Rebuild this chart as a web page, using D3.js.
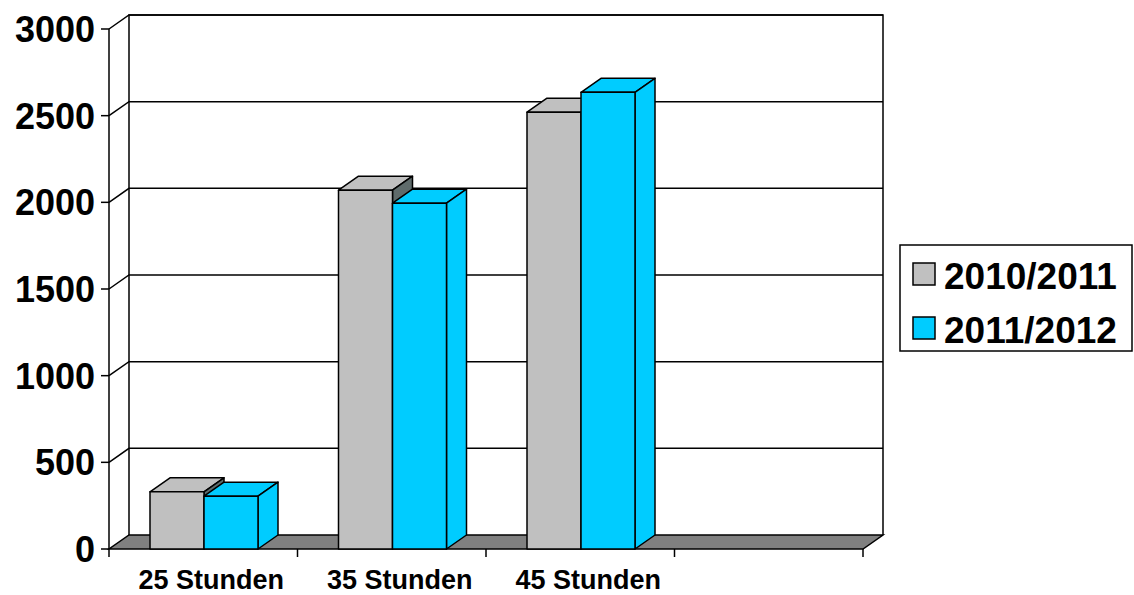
<!DOCTYPE html>
<html>
<head>
<meta charset="utf-8">
<script src="https://cdn.jsdelivr.net/npm/d3@7"></script>
<style>
  body { margin: 0; background: #fff; }
  text { font-family: "Liberation Sans", Arial, sans-serif; font-weight: bold; fill: #000; }
</style>
</head>
<body>
<svg id="chart" width="1134" height="595"></svg>
<script>
// chart data
var categories = ["25 Stunden", "35 Stunden", "45 Stunden", ""];
var seriesNames = ["2010/2011", "2011/2012"];
var values2010 = [330, 2070, 2520, null];
var values2011 = [305, 1995, 2635, null];
var yTicks = [0, 500, 1000, 1500, 2000, 2500, 3000];

var colors = { "2010/2011": "#c0c0c0", "2011/2012": "#00ccff" };
var sideColors = { "2010/2011": "#5f6b6b", "2011/2012": "#00ccff" };

// front plane and depth offset of the 3d box
var plotLeft = 109, plotRight = 863, plotTop = 29, plotBottom = 549;
var dx = 20, dy = -14;

var svg = d3.select("#chart");

var x = d3.scaleBand().domain(categories).range([plotLeft, plotRight]);
var inner = d3.scaleBand().domain(seriesNames).range([41, 41 + 108]);
var y = d3.scaleLinear().domain([0, 3000]).range([plotBottom, plotTop]);

var line = d3.line();

// walls
var walls = svg.append("g").attr("fill", "none").attr("stroke", "#000").attr("stroke-width", 1.5);

walls.selectAll("path.grid")
    .data(yTicks.filter(d => d > 0))
    .join("path")
      .attr("class", "grid")
      .attr("d", d => line([[plotLeft, y(d)], [plotLeft + dx, y(d) + dy], [plotRight + dx, y(d) + dy]]));

walls.append("path")
    .attr("d", line([[plotLeft + dx, plotBottom + dy], [plotLeft + dx, plotTop + dy],
                     [plotRight + dx, plotTop + dy], [plotRight + dx, plotBottom + dy]]));

// floor
svg.append("path")
    .attr("d", line([[plotLeft, plotBottom], [plotRight, plotBottom],
                     [plotRight + dx, plotBottom + dy], [plotLeft + dx, plotBottom + dy]]) + "Z")
    .attr("fill", "#808080")
    .attr("stroke", "#000")
    .attr("stroke-width", 1.5);

// y axis
var yAxis = svg.append("g");
yAxis.append("line")
    .attr("x1", plotLeft).attr("x2", plotLeft)
    .attr("y1", plotTop).attr("y2", plotBottom)
    .attr("stroke", "#000").attr("stroke-width", 1.5);
yAxis.selectAll("line.tick")
    .data(yTicks)
    .join("line")
      .attr("class", "tick")
      .attr("x1", plotLeft - 8).attr("x2", plotLeft)
      .attr("y1", d => y(d)).attr("y2", d => y(d))
      .attr("stroke", "#000").attr("stroke-width", 1.5);
yAxis.selectAll("text")
    .data(yTicks)
    .join("text")
      .attr("x", 95)
      .attr("y", d => y(d))
      .attr("dy", "0.36em")
      .attr("text-anchor", "end")
      .style("font-size", "36px")
      .text(d => d);

// x axis ticks and labels
var xAxis = svg.append("g");
var bounds = categories.map(c => x(c)).concat([plotRight]);
xAxis.selectAll("line")
    .data(bounds)
    .join("line")
      .attr("x1", d => d).attr("x2", d => d)
      .attr("y1", plotBottom).attr("y2", plotBottom + 8)
      .attr("stroke", "#000").attr("stroke-width", 1.5);
xAxis.selectAll("text")
    .data(categories)
    .join("text")
      .attr("x", d => x(d) + x.bandwidth() / 2 + 8)
      .attr("y", 589)
      .attr("text-anchor", "middle")
      .style("font-size", "27px")
      .text(d => d);

// bars
var bars = [];
categories.forEach(function (c, i) {
    [values2010, values2011].forEach(function (vals, s) {
        if (vals[i] != null) bars.push({ cat: c, series: seriesNames[s], value: vals[i] });
    });
});

var barG = svg.append("g").attr("stroke", "#000").attr("stroke-width", 1.5).attr("stroke-linejoin", "round");

bars.forEach(function (b) {
    var x0 = x(b.cat) + inner(b.series);
    var x1 = x0 + inner.bandwidth();
    var yt = y(b.value);
    var g = barG.append("g");
    g.append("path")
        .attr("d", line([[x0, yt], [x1, yt], [x1 + dx, yt + dy], [x0 + dx, yt + dy]]) + "Z")
        .attr("fill", colors[b.series]);
    g.append("path")
        .attr("d", line([[x1, yt], [x1 + dx, yt + dy], [x1 + dx, plotBottom + dy], [x1, plotBottom]]) + "Z")
        .attr("fill", sideColors[b.series]);
    g.append("rect")
        .attr("x", x0).attr("y", yt)
        .attr("width", x1 - x0).attr("height", plotBottom - yt)
        .attr("fill", colors[b.series]);
});

// legend
var legend = svg.append("g");
legend.append("rect")
    .attr("x", 900).attr("y", 245)
    .attr("width", 232).attr("height", 106)
    .attr("fill", "#fff").attr("stroke", "#000").attr("stroke-width", 1.5);
var items = legend.selectAll("g.item")
    .data(seriesNames)
    .join("g")
      .attr("class", "item")
      .attr("transform", (d, i) => `translate(913, ${263 + i * 54})`);
items.append("rect")
    .attr("width", 22).attr("height", 22)
    .attr("fill", d => colors[d])
    .attr("stroke", "#000").attr("stroke-width", 1.5);
items.append("text")
    .attr("x", 31).attr("y", 26)
    .style("font-size", "37px")
    .text(d => d);
</script>
</body>
</html>
